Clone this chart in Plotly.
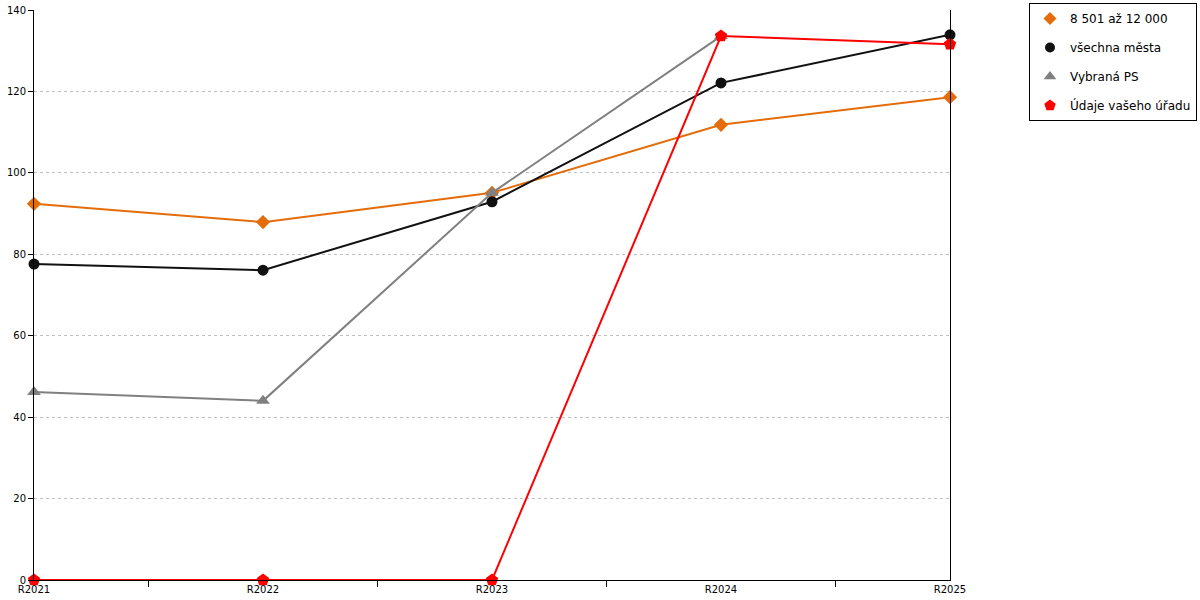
import plotly.graph_objects as go

categories = ["R2021", "R2022", "R2023", "R2024", "R2025"]
series_names = ["8 501 až 12 000", "všechna města", "Vybraná PS", "Údaje vašeho úřadu"]
orange_vals = [92.4, 87.9, 95.1, 111.8, 118.6]
black_vals = [77.6, 76.1, 92.9, 122.1, 133.9]
gray_vals = [46.2, 44.0, 95.1, 133.6, None]
red_vals = [0, 0, 0, 133.6, 131.6]
y_ticks = [0, 20, 40, 60, 80, 100, 120, 140]

x_idx = list(range(len(categories)))

styles = [
    dict(color="#E46C0A", symbol="diamond", size=11),
    dict(color="#111111", symbol="circle", size=11),
    dict(color="#808080", symbol="triangle-up", size=12),
    dict(color="#FF0000", symbol="pentagon", size=13),
]
all_vals = [orange_vals, black_vals, gray_vals, red_vals]

fig = go.Figure()
for name, vals, st in zip(series_names, all_vals, styles):
    fig.add_trace(go.Scatter(
        x=x_idx, y=vals, name=name, mode="lines+markers",
        line=dict(color=st["color"], width=2),
        marker=dict(color=st["color"], symbol=st["symbol"], size=st["size"]),
        legendgroup=name, showlegend=False, connectgaps=False, cliponaxis=False,
    ))
for name, st in zip(series_names, styles):
    fig.add_trace(go.Scatter(
        x=[None], y=[None], name=name, mode="markers",
        marker=dict(color=st["color"], symbol=st["symbol"], size=st["size"] - 1),
        legendgroup=name, showlegend=True,
    ))

fig.update_layout(
    width=1200, height=600,
    margin=dict(l=34, r=250, t=10, b=20, autoexpand=False),
    plot_bgcolor="white", paper_bgcolor="white",
    font=dict(family="DejaVu Sans", size=10, color="#000"),
    legend=dict(
        xref="container", yref="container",
        x=0.9975, y=0.9950, xanchor="right", yanchor="top",
        bordercolor="#000", borderwidth=1, bgcolor="white",
        font=dict(family="DejaVu Sans", size=12, color="#000"),
        tracegroupgap=10,
    ),
    showlegend=True,
)
fig.update_xaxes(
    range=[0, 4], tickvals=x_idx, ticktext=categories, automargin=False,
    showgrid=False, zeroline=False,
    showline=True, linecolor="#000", linewidth=1,
    ticks="", ticklen=0,
    minor=dict(tick0=0.5, dtick=1, ticks="outside", ticklen=6, tickcolor="#000", showgrid=False),
)
fig.update_yaxes(
    range=[0, 140], tickvals=y_ticks, automargin=False,
    showgrid=True, gridcolor="#C0C0C0", griddash="dot", gridwidth=1,
    zeroline=False, showline=True, linecolor="#000", linewidth=1, mirror=True,
    ticks="outside", ticklen=5, tickcolor="#000",
)

fig.write_html(
    "out.html",
    config={"displayModeBar": False},
    post_script="document.body.style.margin='0';document.body.style.overflow='hidden';",
)
